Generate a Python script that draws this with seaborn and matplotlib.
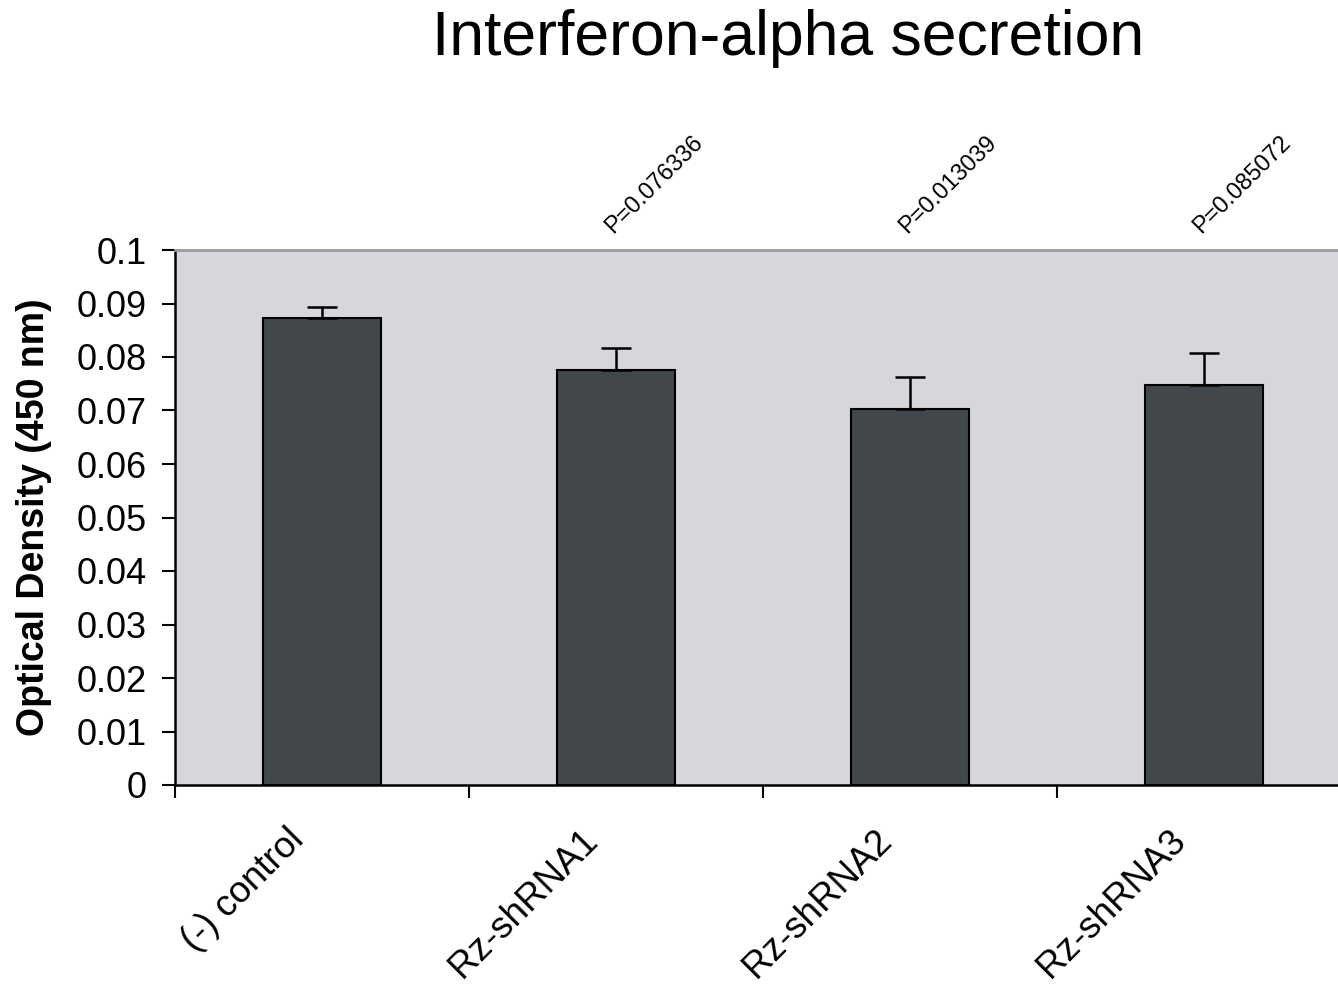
import matplotlib
matplotlib.use("Agg")
import matplotlib.pyplot as plt
import matplotlib.transforms as mtransforms
import numpy as np
import pandas as pd
import seaborn as sns

# Interferon-alpha ELISA readout per construct
groups = ["(-) control", "Rz-shRNA1", "Rz-shRNA2", "Rz-shRNA3"]
od_mean = [0.0872, 0.0775, 0.0703, 0.0747]
od_err = [0.0021, 0.0042, 0.0060, 0.0060]
p_values = ["", "P=0.076336", "P=0.013039", "P=0.085072"]
y_ticks = [0, 0.01, 0.02, 0.03, 0.04, 0.05, 0.06, 0.07, 0.08, 0.09, 0.1]
y_tick_labels = ["0", "0.01", "0.02", "0.03", "0.04", "0.05", "0.06", "0.07", "0.08", "0.09", "0.1"]

sns.set_style("white")
plt.rcParams["font.family"] = ["Liberation Sans", "DejaVu Sans"]
plt.rcParams.update({
    "text.color": "black",
    "axes.labelcolor": "black",
    "xtick.color": "black",
    "ytick.color": "black",
})

df = pd.DataFrame({"group": groups, "od": od_mean})

W, H = 1338, 984
fig = plt.figure(figsize=(W / 100, H / 100), dpi=100)
ax = fig.add_axes([175 / W, (H - 785) / H, (1351 - 175) / W, (785 - 250) / H])
ax.set_facecolor("#d6d6dc")

bar_color = "#41474a"
sns.barplot(data=df, x="group", y="od", color=bar_color, saturation=1,
            width=0.40, edgecolor="black", linewidth=1.5, errorbar=None, ax=ax)

xpos = np.arange(len(groups))
ax.errorbar(xpos, od_mean, yerr=[np.zeros(len(od_err)), od_err], fmt="none",
            ecolor="black", elinewidth=1.8, capsize=11, capthick=1.8, zorder=3)

ax.set_xlim(-0.5, len(groups) - 0.5)
ax.set_ylim(0, 0.1)
ax.set_yticks(y_ticks)
ax.set_yticklabels(y_tick_labels, fontsize=26)
ax.tick_params(axis="y", direction="out", length=9.5, width=1.5, pad=11, left=True,
               colors="black")

# category labels under bars, tick marks at category boundaries
ax.set_xticks(xpos)
ax.set_xticklabels(groups, fontsize=26.5, rotation=45, ha="right", rotation_mode="anchor")
ax.tick_params(axis="x", which="major", length=0, pad=27, colors="black")
shift = mtransforms.ScaledTranslation(-0.36, 0, fig.dpi_scale_trans)
for lbl in ax.get_xticklabels():
    lbl.set_transform(lbl.get_transform() + shift)
ax.set_xticks(np.arange(len(groups)) - 0.5, minor=True)
ax.tick_params(axis="x", which="minor", direction="out", length=9, width=1.5, bottom=True,
               colors="black")

ax.set_xlabel("")
ax.set_ylabel("Optical Density (450 nm)", fontsize=27, fontweight="bold", color="black")
ax.yaxis.set_label_coords((52 - 175) / 1176, 0.5)

for s in ["left", "bottom"]:
    ax.spines[s].set_color("black")
    ax.spines[s].set_linewidth(1.8)
ax.spines["top"].set_color("#9a9a9a")
ax.spines["top"].set_linewidth(2)
ax.spines["right"].set_color("#9a9a9a")
ax.spines["right"].set_linewidth(2)

for i, p in enumerate(p_values):
    if p:
        ax.text(i + 0.13, 0.1123, p, rotation=45, ha="center", va="center",
                fontsize=17, color="black", clip_on=False)

fig.text(788 / W, 1 - 38 / H, "Interferon-alpha secretion", ha="center", va="center",
         fontsize=45, color="black")

fig.savefig("out.png", dpi=100)
